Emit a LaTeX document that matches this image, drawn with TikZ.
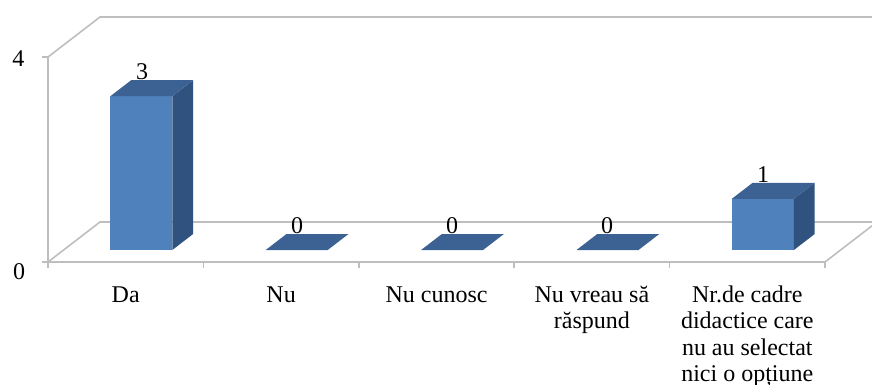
\documentclass[tikz,border=0pt]{standalone}
\usepackage{fontspec}
\setmainfont{Liberation Serif}
\definecolor{frontc}{RGB}{79,129,189}
\definecolor{topc}{RGB}{60,98,147}
\definecolor{sidec}{RGB}{48,82,127}
\definecolor{gridc}{RGB}{190,190,190}
\begin{document}
\begin{tikzpicture}[x=1pt,y=-1pt,
  grid/.style={draw=gridc,line width=1.6pt},
  lbl/.style={font=\fontsize{24}{26.5}\selectfont,inner sep=0pt},
  catlbl/.style={lbl,align=center,anchor=base},
  vallbl/.style={lbl,anchor=base}]
\useasboundingbox (0,0) rectangle (872,385);
% walls and floor
\draw[grid] (48,57) -- (100,17) -- (872,17);
\draw[grid] (48,262) -- (100,222) -- (872,222);
\draw[grid] (48,262) -- (825,262) -- (872,225.8);
\draw[grid] (48,57) -- (48,262);
\draw[grid] (42,57) -- (48,57);
\draw[grid] (42,262) -- (48,262);
\foreach \k in {0,...,5} \draw[grid] ({48+155.4*\k},262) -- ({48+155.4*\k},268);
% bars
\newcommand{\mybar}[2]{%
  \pgfmathsetmacro{\xl}{#1-31}\pgfmathsetmacro{\xr}{#1+31}%
  \pgfmathsetmacro{\yt}{250-51.25*#2}%
  \ifdim #2pt>0pt
    \fill[frontc] (\xl,250) rectangle (\xr,\yt);
    \fill[sidec] (\xr,250) -- (\xr,\yt) -- (\xr+20.8,\yt-16) -- (\xr+20.8,234) -- cycle;
  \fi
  \fill[topc] (\xl,\yt) -- (\xl+20.8,\yt-16) -- (\xr+20.8,\yt-16) -- (\xr,\yt) -- cycle;
}
\mybar{141.3}{3}
\mybar{296.7}{0}
\mybar{452.1}{0}
\mybar{607.5}{0}
\mybar{762.9}{1}
% value labels
\node[vallbl] (v1) at (142,80) {3};
\node[vallbl] (v2) at (297,233) {0};
\node[vallbl] (v3) at (452,233) {0};
\node[vallbl] (v4) at (607,233) {0};
\node[vallbl] (v5) at (763,182) {1};
% axis labels
\node[vallbl] (y4) at (18.5,67) {4};
\node[vallbl] (y0) at (19,279) {0};
% category labels (anchor base = baseline of the last line)
\node[catlbl] (c1) at (125.7,302) {Da};
\node[catlbl] (c2) at (281.1,302) {Nu};
\node[catlbl] (c3) at (436.5,302) {Nu cunosc};
\node[catlbl] (c4) at (591.9,328.5) {Nu vreau să\\răspund};
\node[catlbl] (c5) at (747.3,381.5) {Nr.de cadre\\didactice care\\nu au selectat\\nici o opțiune};
\end{tikzpicture}
\end{document}
